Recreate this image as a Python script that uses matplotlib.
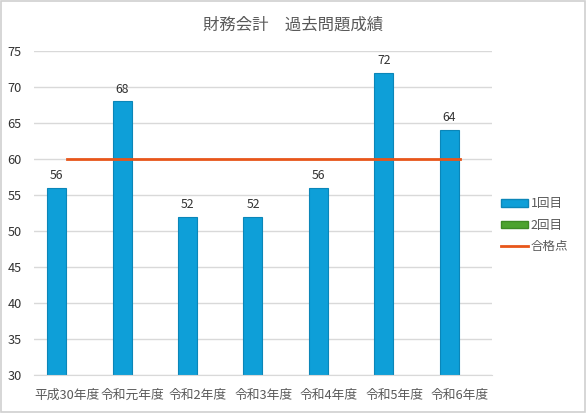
import matplotlib
matplotlib.use("Agg")
import matplotlib.pyplot as plt
import numpy as np
from matplotlib.patches import Rectangle, Patch
from matplotlib.lines import Line2D

plt.rcParams['font.family'] = ['Noto Sans CJK JP', 'DejaVu Sans']

categories = ["平成30年度", "令和元年度", "令和2年度", "令和3年度", "令和4年度", "令和5年度", "令和6年度"]
first_scores = [56, 68, 52, 52, 56, 72, 64]
second_scores = [None] * 7
pass_mark = [60] * 7
series_names = ["1回目", "2回目", "合格点"]
title = "財務会計　過去問題成績"

fig = plt.figure(figsize=(5.86, 4.13), dpi=100)
fig.patches.append(Rectangle((0.0015, 0.002), 0.997, 0.996, transform=fig.transFigure,
                             fill=False, edgecolor="#d0d0d0", linewidth=1.2))
ax = fig.add_axes([0.058, 0.092, 0.782, 0.7845])

x = np.arange(len(categories))
bw = 0.29
blue = "#0E9FD8"
blue_edge = "#0B86B8"
green = "#4CA32E"
orange = "#E8561A"
text_col = "#595959"

bars = ax.bar(x - bw / 2 - 0.01, np.array(first_scores) - 30, bottom=30, width=bw,
              color=blue, edgecolor=blue_edge, linewidth=0.8, zorder=2)
for xi, v in zip(x, first_scores):
    ax.text(xi - bw / 2 - 0.01, v + 0.8, str(v), ha="center", va="bottom",
            fontsize=8.8, color="#333333")

ax.plot(x, pass_mark, color=orange, linewidth=2, zorder=3)

ax.set_xlim(-0.5, len(categories) - 0.5)
ax.set_ylim(30, 75)
ax.set_yticks(range(30, 80, 5))
ax.set_xticks(x)
ax.set_xticklabels(categories, fontsize=9.2, color=text_col)
ax.tick_params(axis="y", labelsize=9.2, labelcolor="#333333", length=0, pad=9)
ax.tick_params(axis="x", length=0, pad=10)
ax.yaxis.grid(True, color="#d9d9d9", linewidth=1)
ax.set_axisbelow(True)
for s in ["top", "right", "left"]:
    ax.spines[s].set_visible(False)
ax.spines["bottom"].set_color("#d9d9d9")

fig.text(0.5, 0.94, title, ha="center", va="center", fontsize=11.8, color=text_col)

handles = [Patch(facecolor=blue, edgecolor=blue_edge),
           Patch(facecolor=green, edgecolor="#3d8a24"),
           Line2D([0], [0], color=orange, linewidth=2)]
fig.legend(handles, series_names, loc="center left", bbox_to_anchor=(0.835, 0.455),
           frameon=False, fontsize=9, handlelength=2.2, handleheight=0.5,
           handletextpad=0.2, labelspacing=0.65, labelcolor=text_col)

fig.savefig("out.png", dpi=100)
